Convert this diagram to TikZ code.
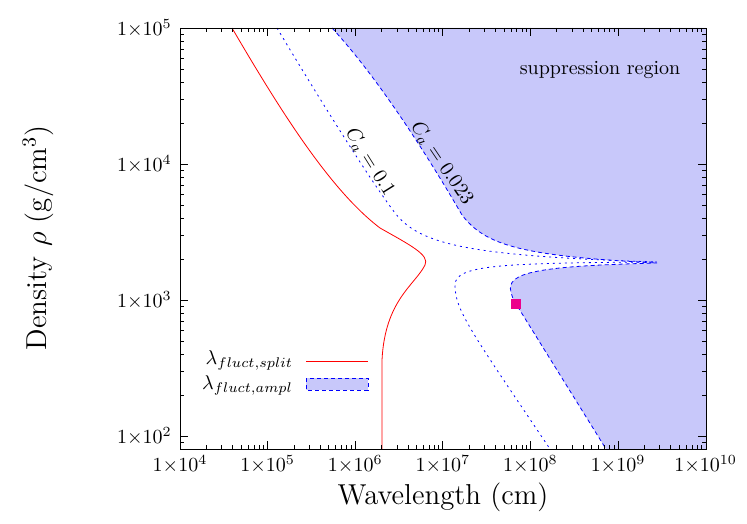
\documentclass[tikz,border=0pt]{standalone}
\usepackage{amsmath}
\usepackage{tikz}
\usetikzlibrary{positioning}

\definecolor{suppblue}{RGB}{200,200,250}

\tikzset{
  curvesplit/.style={red,thin},
  curveampl/.style={blue,thin,dash pattern=on 2pt off 1.5pt},
  curvedot/.style={blue,thin,dash pattern=on 1pt off 2pt},
  ticklabel/.style={font=\normalsize,inner sep=2pt},
}

\begin{document}
\begin{tikzpicture}[x=0.5pt,y=-0.5pt]
\useasboundingbox (0,0) rectangle (747,523);

% suppression region
\fill[suppblue] (332,28) .. controls (380,80) and (430,160) .. (462,215)
  .. controls (485,245) and (520,256) .. (657,263)
  .. controls (540,266) and (505,272) .. (511,292)
  .. controls (513,300) and (515,304) .. (516,304)
  -- (606,449) -- (706,449) -- (706,28) -- cycle;

% curves
\draw[curveampl] (332,28) .. controls (380,80) and (430,160) .. (462,215)
  .. controls (485,245) and (520,256) .. (657,263)
  .. controls (540,266) and (505,272) .. (511,292)
  .. controls (513,300) and (515,304) .. (516,304) -- (606,449);
\draw[curvedot] (277,28) .. controls (320,100) and (370,180) .. (395,213)
  .. controls (420,245) and (470,256) .. (657,262)
  .. controls (500,263) and (455,265) .. (455,285)
  .. controls (455,310) and (470,330) .. (550,449);
\draw[curvesplit] (232,28) .. controls (280,110) and (330,190) .. (380,228)
  .. controls (410,245) and (430,255) .. (425,265)
  .. controls (415,285) and (385,300) .. (382,360) -- (382,449);

% magenta point
\fill[magenta] (511,299) rectangle (521,309);

% frame and ticks
\draw[thin] (180,28) rectangle (706,449);
\foreach \d in {0,...,5}{
  \draw ({180+87.6*\d},449) -- ++(0,-8) ({180+87.6*\d},28) -- ++(0,8);
  \foreach \k in {2,...,9}
    \draw ({180+87.6*\d+87.6*log10(\k)},449) -- ++(0,-4)
          ({180+87.6*\d+87.6*log10(\k)},28) -- ++(0,4);
}
\foreach \d in {0,...,2}{
  \draw (180,{28+136*\d}) -- ++(8,0) (706,{28+136*\d}) -- ++(-8,0);
  \foreach \k in {2,...,9}
    \draw (180,{28+136*\d+136-136*log10(\k)}) -- ++(4,0)
          (706,{28+136*\d+136-136*log10(\k)}) -- ++(-4,0);
}
\foreach \k in {9}
  \draw (180,{436+136-136*log10(\k)}) -- ++(4,0) (706,{436+136-136*log10(\k)}) -- ++(-4,0);
\draw (180,436) -- ++(8,0) (706,436) -- ++(-8,0);

% tick labels
\foreach \d [count=\i from 0] in {4,...,10}
  \node[ticklabel,below] (xt\d) at ({180+87.6*\i},451) {$1{\times}10^{\d}$};
\foreach \d/\y in {5/28,4/164,3/300,2/436}
  \node[ticklabel,left] (yt\d) at (176,\y) {$1{\times}10^{\d}$};

% axis titles
\node[font=\Large] (xlabel) at (443,497) {Wavelength (cm)};
\node[font=\Large,rotate=90] (ylabel) at (38,238) {Density $\rho$ (g/cm$^3$)};

% annotations
\node (supp) at (600,70) {suppression region};
\node[rotate=-58] (ca1) at (370,162) {$C_a=0.1$};
\node[rotate=-56] (ca2) at (442,163) {$C_a=0.023$};

% legend
\node[left] (legsplit) at (300,360) {$\lambda_{fluct,split}$};
\node[left] (legampl) at (300,385) {$\lambda_{fluct,ampl}$};
\coordinate (ls1) at (306,361);
\coordinate (ls2) at (368,361);
\draw[curvesplit] (ls1) -- (ls2);
\draw[curveampl,fill=suppblue] (306,378) rectangle (368,390);
\end{tikzpicture}
\end{document}
